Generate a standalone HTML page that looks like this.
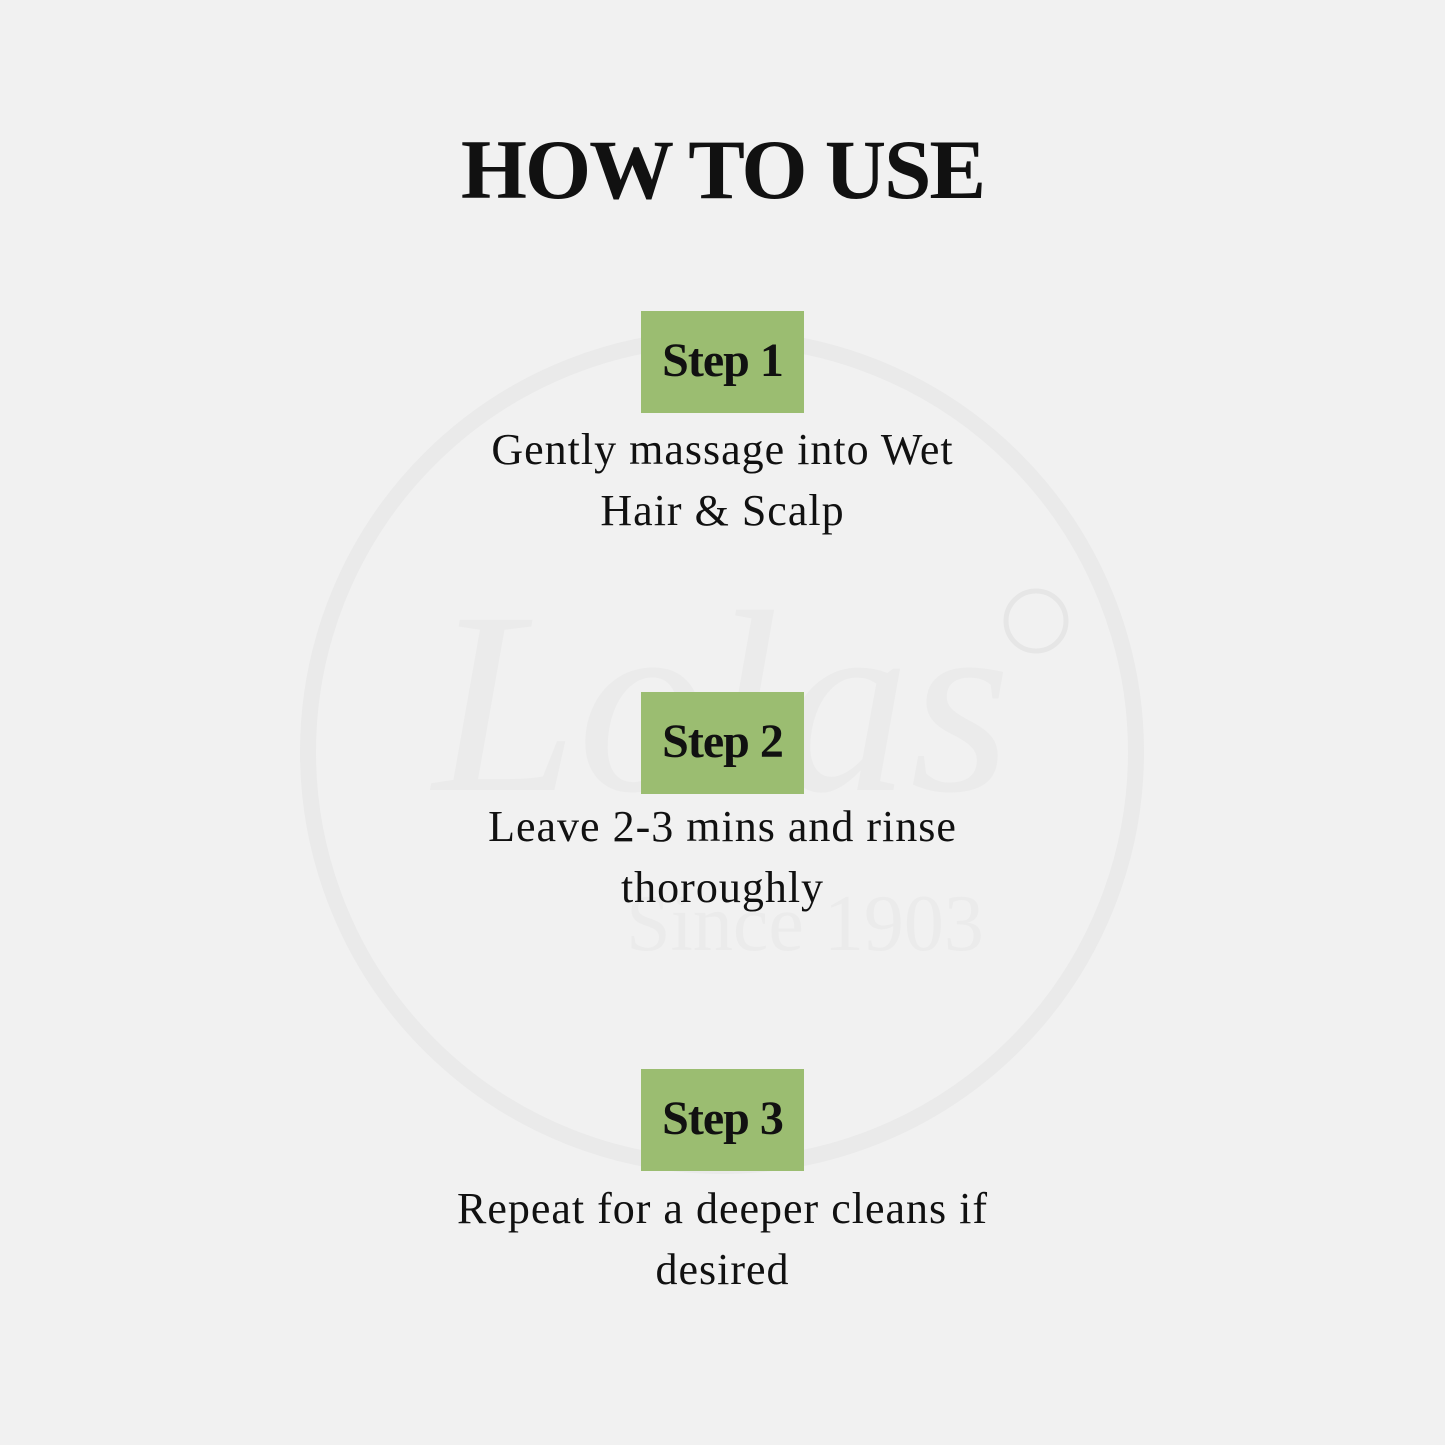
<!DOCTYPE html>
<html><head><meta charset="utf-8"><style>
html,body{margin:0;padding:0}
body{width:1445px;height:1445px;background:#f1f1f1;position:relative;overflow:hidden;font-family:"Liberation Serif",serif;color:#111}
h1{position:absolute;left:0;width:1445px;text-align:center;top:121px;margin:0;font-size:85px;font-weight:bold;letter-spacing:-2px}
.box{position:absolute;left:641px;width:163px;height:102px;background:#9bbd71;text-align:center;line-height:100px;font-size:48px;font-weight:bold;letter-spacing:-1px}
.p{position:absolute;left:0;width:1445px;text-align:center;font-size:44px;line-height:61px;letter-spacing:1px}
</style></head><body>
<svg width="1445" height="1445" style="position:absolute;left:0;top:0">
<circle cx="722" cy="752" r="414" fill="none" stroke="#eaeaea" stroke-width="16"/>
<circle cx="1036" cy="621" r="30" fill="none" stroke="#e6e6e6" stroke-width="5"/>
<text x="722" y="790" text-anchor="middle" font-family="Liberation Serif" font-style="italic" font-size="260" fill="#ebebeb">Lolas</text>
<text x="805" y="950" text-anchor="middle" font-family="Liberation Serif" font-size="80" fill="#ebebeb">Since 1903</text>
</svg>
<h1>HOW TO USE</h1>
<div class="box" style="top:311px">Step 1</div>
<div class="p" style="top:419px">Gently massage into Wet<br>Hair &amp; Scalp</div>
<div class="box" style="top:692px">Step 2</div>
<div class="p" style="top:796px">Leave 2-3 mins and rinse<br>thoroughly</div>
<div class="box" style="top:1069px">Step 3</div>
<div class="p" style="top:1178px">Repeat for a deeper cleans if<br>desired</div>
</body></html>
